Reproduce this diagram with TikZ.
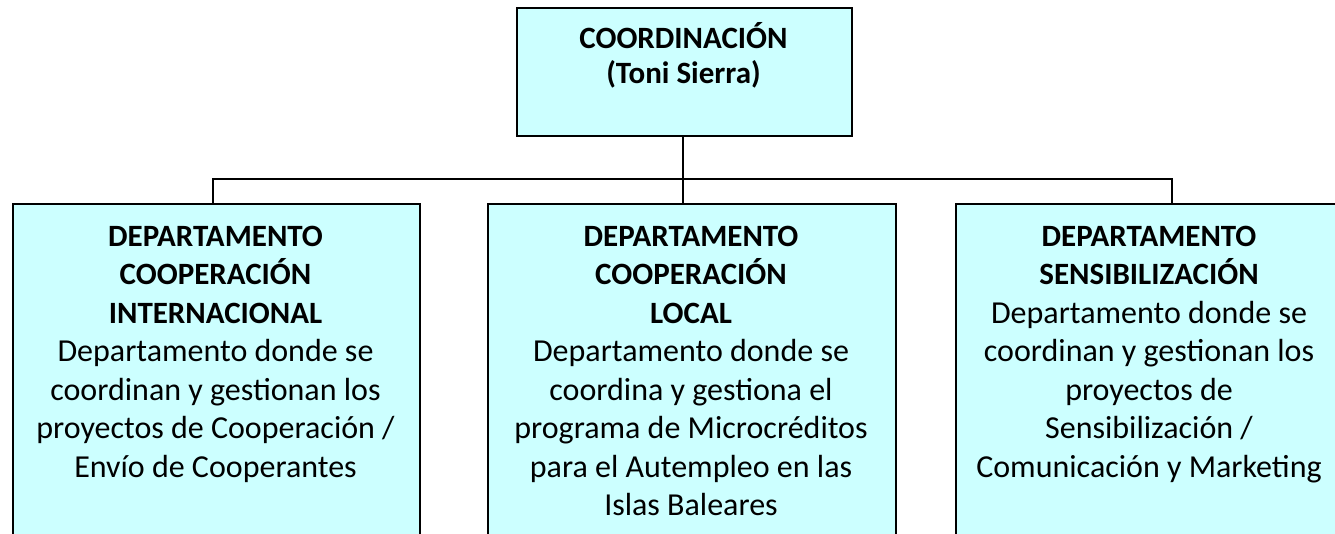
\documentclass[tikz,border=0pt]{standalone}
\usepackage{fontspec}
\setmainfont{Carlito}
\definecolor{boxfill}{HTML}{CCFFFF}
\newcommand{\hd}[1]{{\fontsize{31}{38.5}\selectfont\bfseries #1}}
\tikzset{
  orgbox/.style={draw=black, line width=2.2pt, fill=boxfill, inner sep=0pt, anchor=north west},
  orgtxt/.style={align=center, inner sep=0pt, anchor=base, font=\fontsize{32}{38.5}\selectfont},
  link/.style={draw=black, line width=1.4pt}
}
\begin{document}
\begin{tikzpicture}[x=1pt,y=-1pt]
\useasboundingbox (0,0) rectangle (1335,534);
\clip (0,0) rectangle (1335,534);
% boxes
\node[orgbox, minimum width=335pt, minimum height=128pt] (top) at (516,7) {};
\node[orgbox, minimum width=407pt, minimum height=380pt] (left) at (12,203) {};
\node[orgbox, minimum width=408pt, minimum height=380pt] (mid) at (487,203) {};
\node[orgbox, minimum width=388pt, minimum height=380pt] (right) at (955,203) {};
% connectors
\coordinate (bus) at (683,179);
\coordinate (busL) at (213,179);
\coordinate (busR) at (1172,179);
\draw[link] (top.south -| bus) -- (mid.north -| bus);
\draw[link] (left.north -| busL) -- (busL) -- (busR) -- (right.north -| busR);
% texts (anchored at the baseline of their last line)
\node[orgtxt, font=\fontsize{31}{35}\selectfont\bfseries] (ttop) at (683.5,84) {COORDINACIÓN\\(Toni Sierra)};
\node[orgtxt] (tleft) at (215.5,477) {\hd{DEPARTAMENTO}\\\hd{COOPERACIÓN}\\\hd{INTERNACIONAL}\\Departamento donde se\\coordinan y gestionan los\\proyectos de Cooperación /\\Envío de Cooperantes};
\node[orgtxt] (tmid) at (691,515.5) {\hd{DEPARTAMENTO}\\\hd{COOPERACIÓN}\\\hd{LOCAL}\\Departamento donde se\\coordina y gestiona el\\programa de Microcréditos\\para el Autempleo en las\\Islas Baleares};
\node[orgtxt] (tright) at (1149,477) {\hd{DEPARTAMENTO}\\\hd{SENSIBILIZACIÓN}\\Departamento donde se\\coordinan y gestionan los\\proyectos de\\Sensibilización /\\Comunicación y Marketing};
\end{tikzpicture}
\end{document}
